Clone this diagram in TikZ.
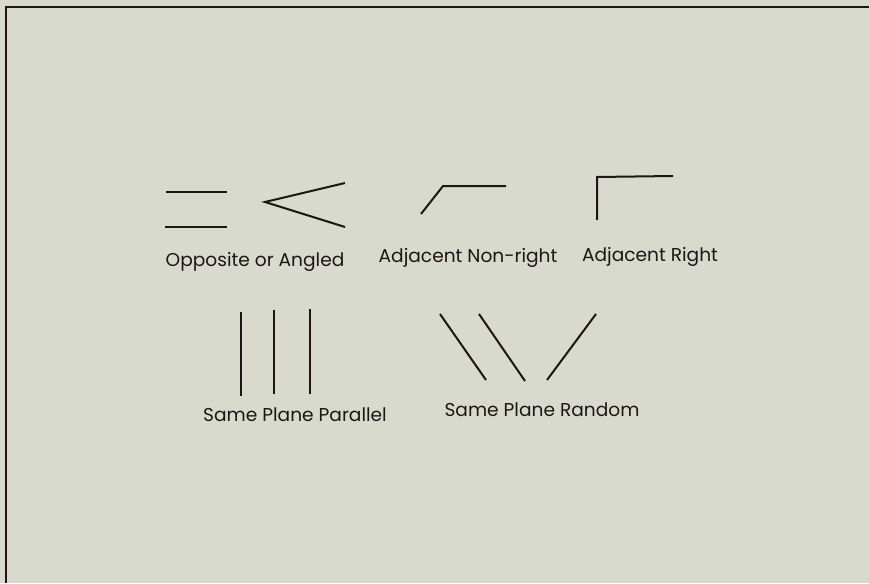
\documentclass[tikz,border=0pt]{standalone}
\usepackage{fontspec}
\setmainfont{Poppins}
\definecolor{bg}{RGB}{216,218,206}
\definecolor{ink}{RGB}{30,22,22}
\begin{document}
\begin{tikzpicture}[x=1pt,y=-1pt,
  seg/.style={draw=ink,line width=2pt},
  lab/.style={text=ink,font=\fontsize{18.6}{20}\selectfont,inner sep=0pt}]
\fill[bg] (0,0) rectangle (869,583);
\useasboundingbox (0,0) rectangle (869,583);
\draw[ink,line width=2.8pt] (6,583) -- (6,7) -- (869,7);
% Opposite or angled
\coordinate (o1a) at (166,192); \coordinate (o1b) at (227,192);
\coordinate (o2a) at (165,227); \coordinate (o2b) at (227,227);
\draw[seg] (o1a) -- (o1b);
\draw[seg] (o2a) -- (o2b);
\coordinate (av) at (265,202); \coordinate (au) at (345,183); \coordinate (al) at (345,227);
\draw[seg] (au) -- (av) -- (al);
\node[lab] (lopp) at (255,262) {Opposite or Angled};
% Adjacent non-right
\coordinate (n1) at (421,214); \coordinate (n2) at (443,186); \coordinate (n3) at (506,186);
\draw[seg] (n1) -- (n2) -- (n3);
\node[lab] (lnr) at (468,258) {Adjacent Non-right};
% Adjacent right
\coordinate (r1) at (597,220); \coordinate (r2) at (597,177); \coordinate (r3) at (673,176);
\draw[seg] (r1) -- (r2) -- (r3);
\node[lab] (lr) at (650,257) {Adjacent Right};
% Same plane parallel
\coordinate (p1a) at (241,312); \coordinate (p1b) at (241,396);
\coordinate (p2a) at (274,310); \coordinate (p2b) at (274,394);
\coordinate (p3a) at (310,309); \coordinate (p3b) at (310,394);
\draw[seg] (p1a) -- (p1b);
\draw[seg] (p2a) -- (p2b);
\draw[seg] (p3a) -- (p3b);
\node[lab] (lpp) at (295,415) {Same Plane Parallel};
% Same plane random
\coordinate (s1a) at (440,314); \coordinate (s1b) at (486,380);
\coordinate (s2a) at (479,314); \coordinate (s2b) at (525,381);
\coordinate (s3a) at (596,314); \coordinate (s3b) at (547,380);
\draw[seg] (s1a) -- (s1b);
\draw[seg] (s2a) -- (s2b);
\draw[seg] (s3a) -- (s3b);
\node[lab] (lpr) at (542,410) {Same Plane Random};
\end{tikzpicture}
\end{document}
